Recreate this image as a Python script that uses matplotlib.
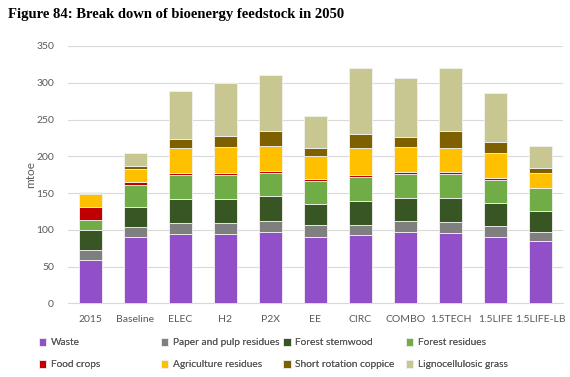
#!/usr/bin/env python3
"""Break down of bioenergy feedstock in 2050 - stacked bars."""

import numpy as np
import matplotlib
matplotlib.use('Agg')
import matplotlib.pyplot as plt

scenarios = ['2015', 'Baseline', 'ELEC', 'H2', 'P2X', 'EE', 'CIRC', 'COMBO',
             '1.5TECH', '1.5LIFE', '1.5LIFE-LB']

# mtoe
waste       = [59, 90, 95, 95, 96.5, 91, 92.5, 96.5, 95.5, 91, 84.5]
paper_pulp  = [14, 14, 15, 15, 15.5, 16, 14, 15, 15, 14.5, 13]
stemwood    = [27, 27.5, 32, 32, 34, 28, 33, 32, 33.5, 31.5, 28]
forest_res  = [14, 30, 33, 33, 31, 31, 33, 33, 32.5, 31.5, 31]
food_crops  = [17, 3.5, 3, 3, 3.5, 3.5, 2.5, 2, 2.5, 2.5, 1]
agri_res    = [18, 18, 34, 35, 33, 30.5, 36, 34.5, 33, 34, 19.5]
src         = [0.5, 3.5, 12, 15, 20.5, 11, 20, 13, 23, 14, 6.5]
ligno_grass = [1.5, 18, 65, 71.5, 76, 44.5, 88.5, 80.5, 85.5, 66.5, 31]

series = [
    ('Waste',                  waste,       '#9150C8'),
    ('Paper and pulp residues', paper_pulp, '#7F7F7F'),
    ('Forest stemwood',        stemwood,    '#375623'),
    ('Forest residues',        forest_res,  '#70AD47'),
    ('Food crops',             food_crops,  '#C00000'),
    ('Agriculture residues',   agri_res,    '#FFC000'),
    ('Short rotation coppice', src,         '#7F6000'),
    ('Lignocellulosic grass',  ligno_grass, '#C9C791'),
]

plt.rcParams['font.family'] = ['Lato', 'DejaVu Sans']
grey = '#595959'

fig = plt.figure(figsize=(5.7, 3.77), dpi=100)
ax = fig.add_axes([0.1193, 0.195, 0.8684, 0.683])

x = np.arange(len(scenarios))
bottom = np.zeros(len(scenarios))
for name, vals, color in series:
    ax.bar(x, vals, width=0.5, bottom=bottom, color=color, label=name,
           edgecolor='#F2F2F2', linewidth=0.6, zorder=3)
    bottom += np.array(vals)

ax.set_xlim(-0.5, len(scenarios) - 0.5)
ax.set_ylim(0, 350)
ax.set_yticks(range(0, 351, 50))
ax.set_xticks(x)
ax.set_xticklabels(scenarios)
ax.tick_params(length=0, labelsize=7.5, colors=grey)
ax.tick_params(axis='y', pad=10)
ax.tick_params(axis='x', pad=8)
ax.grid(axis='y', color='#D9D9D9', linewidth=0.8, zorder=0)
for s in ['top', 'right', 'left']:
    ax.spines[s].set_visible(False)
ax.spines['bottom'].set_color('#D9D9D9')
ax.set_ylabel('mtoe', fontsize=8.5, color=grey, labelpad=0)

fig.text(0.014, 0.962, 'Figure 84: Break down of bioenergy feedstock in 2050',
         fontsize=10.5, fontweight='bold', family='Liberation Serif',
         ha='left', va='center')

# legend: 4 fixed-width columns, filled row by row
handles, labels = ax.get_legend_handles_labels()
col_x = [0.068, 0.282, 0.497, 0.712]
for c, x0 in enumerate(col_x):
    idx = [c, c + 4]
    leg = fig.legend([handles[i] for i in idx], [labels[i] for i in idx],
                     loc='upper left', bbox_to_anchor=(x0, 0.103),
                     frameon=False, fontsize=7.3, handlelength=0.75,
                     handleheight=0.75, handletextpad=0.45, labelcolor=grey,
                     borderaxespad=0, borderpad=0, labelspacing=1.25)
    fig.add_artist(leg)

fig.savefig('out.png', dpi=100)
